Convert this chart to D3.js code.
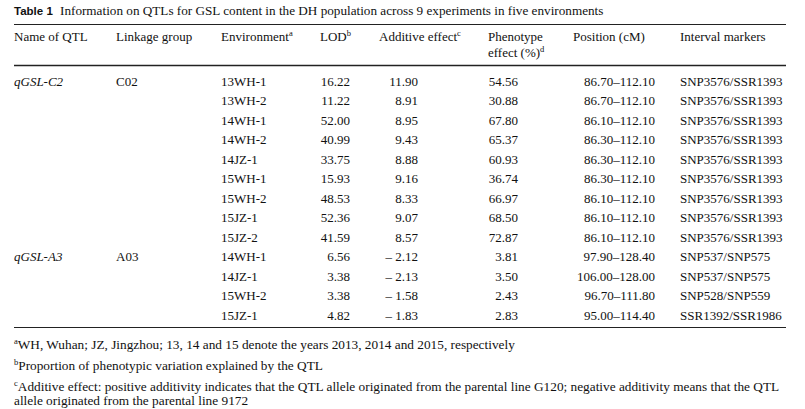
<!doctype html>
<html lang="en">
<head>
  <meta charset="utf-8">
  <title>Table 1 QTLs for GSL content</title>
  <style>
    html, body {
      margin: 0;
      padding: 0;
      background: white;
    }
    svg text {
      font-family: 'Liberation Serif', 'Times New Roman', serif;
      fill: #111;
    }
    .cap-label {
      font-family: 'Liberation Sans', Arial, sans-serif;
      font-weight: bold;
    }
  </style>
</head>
<body>
  <div id="table1"></div>

  <script src="https://d3js.org/d3.v7.min.js"></script>
  <script>
    // table content
    const qtlNames    = ["qGSL-C2", "qGSL-A3"];
    const linkage     = ["C02", "A03"];
    const qtlRows     = [9, 4];   // rows belonging to each QTL
    const environments = ["13WH-1", "13WH-2", "14WH-1", "14WH-2", "14JZ-1", "15WH-1", "15WH-2", "15JZ-1", "15JZ-2",
                          "14WH-1", "14JZ-1", "15WH-2", "15JZ-1"];
    const lod         = [16.22, 11.22, 52.00, 40.99, 33.75, 15.93, 48.53, 52.36, 41.59, 6.56, 3.38, 3.38, 4.82];
    const additive    = [11.90, 8.91, 8.95, 9.43, 8.88, 9.16, 8.33, 9.07, 8.57, -2.12, -2.13, -1.58, -1.83];
    const phenotype   = [54.56, 30.88, 67.80, 65.37, 60.93, 36.74, 66.97, 68.50, 72.87, 3.81, 3.50, 2.43, 2.83];
    const posStart    = [86.70, 86.70, 86.10, 86.30, 86.30, 86.30, 86.10, 86.10, 86.10, 97.90, 106.00, 96.70, 95.00];
    const posEnd      = [112.10, 112.10, 112.10, 112.10, 112.10, 112.10, 112.10, 112.10, 112.10, 128.40, 128.00, 111.80, 114.40];
    const markers     = ["SNP3576/SSR1393", "SNP3576/SSR1393", "SNP3576/SSR1393", "SNP3576/SSR1393", "SNP3576/SSR1393",
                         "SNP3576/SSR1393", "SNP3576/SSR1393", "SNP3576/SSR1393", "SNP3576/SSR1393",
                         "SNP537/SNP575", "SNP537/SNP575", "SNP528/SNP559", "SSR1392/SSR1986"];

    const captionLabel = "Table 1";
    const captionText  = "Information on QTLs for GSL content in the DH population across 9 experiments in five environments";
    const footnotes = [
      ["a", "WH, Wuhan; JZ, Jingzhou; 13, 14 and 15 denote the years 2013, 2014 and 2015, respectively"],
      ["b", "Proportion of phenotypic variation explained by the QTL"],
      ["c", "Additive effect: positive additivity indicates that the QTL allele originated from the parental line G120; negative additivity means that the QTL"],
      ["",  "allele originated from the parental line 9172"]
    ];

    const W = 805, H = 409;
    const left = 14, right = 786;
    const fs = 13;

    // column layout: x and anchor for headers and cells
    const cols = {
      name:   { x: 14,  anchor: "start" },
      link:   { x: 116, anchor: "start" },
      env:    { x: 221, anchor: "start" },
      lod:    { x: 350, anchor: "end", hx: 320 },
      add:    { x: 418, anchor: "end", hx: 379 },
      phen:   { x: 518, anchor: "end", hx: 488 },
      pos:    { x: 655, anchor: "end", hx: 573 },
      mark:   { x: 680, anchor: "start" }
    };

    const svg = d3.select("#table1")
      .append("svg")
      .attr("width", W)
      .attr("height", H)
      .attr("viewBox", `0 0 ${W} ${H}`);

    // caption
    const cap = svg.append("text").attr("x", left).attr("y", 15).attr("font-size", 13.2);
    cap.append("tspan").attr("class", "cap-label").attr("font-size", 11.5).text(captionLabel);
    cap.append("tspan").attr("x", 60).text(captionText);

    // rules
    const rule = (y, w) => svg.append("line")
      .attr("x1", left).attr("x2", right)
      .attr("y1", y).attr("y2", y)
      .attr("stroke", "#222").attr("stroke-width", w);
    rule(24.5, 1);
    rule(65.5, 1.3);
    rule(327.5, 1);

    // headers
    function header(x, y, txt, sup) {
      const t = svg.append("text").attr("x", x).attr("y", y).attr("font-size", fs).text(txt);
      if (sup) t.append("tspan").attr("font-size", 8.5).attr("dy", -5).text(sup);
      return t;
    }
    header(cols.name.x, 41, "Name of QTL");
    header(cols.link.x, 41, "Linkage group");
    header(cols.env.x, 41, "Environment", "a");
    header(cols.lod.hx, 41, "LOD", "b");
    header(cols.add.hx, 41, "Additive effect", "c");
    header(cols.phen.hx, 41, "Phenotype");
    header(cols.phen.hx, 56.5, "effect (%)", "d");
    header(cols.pos.hx, 41, "Position (cM)");
    header(cols.mark.x, 41, "Interval markers");

    // row scale
    const y = d3.scalePoint()
      .domain(d3.range(environments.length))
      .range([85.5, 320]);

    const f2 = d3.format(".2f");
    const fmtAdd = v => v < 0 ? "\u2013 " + f2(-v) : f2(v);

    const rows = environments.map((env, i) => ({
      env: env,
      lod: f2(lod[i]),
      add: fmtAdd(additive[i]),
      phen: f2(phenotype[i]),
      pos: f2(posStart[i]) + "\u2013" + f2(posEnd[i]),
      mark: markers[i]
    }));

    const rowG = svg.selectAll("g.row")
      .data(rows)
      .join("g")
      .attr("class", "row")
      .attr("transform", (d, i) => `translate(0,${y(i)})`);

    ["env", "lod", "add", "phen", "pos", "mark"].forEach(key => {
      rowG.append("text")
        .attr("x", cols[key].x)
        .attr("text-anchor", cols[key].anchor)
        .attr("font-size", fs)
        .text(d => d[key]);
    });

    // QTL name and linkage group on the first row of each block
    const firstRow = qtlRows.map((n, k) => d3.sum(qtlRows.slice(0, k)));
    qtlNames.forEach((name, k) => {
      svg.append("text")
        .attr("x", cols.name.x)
        .attr("y", y(firstRow[k]))
        .attr("font-size", fs)
        .attr("font-style", "italic")
        .text(name);
      svg.append("text")
        .attr("x", cols.link.x)
        .attr("y", y(firstRow[k]))
        .attr("font-size", fs)
        .text(linkage[k]);
    });

    // footnotes
    const noteY = [349, 370, 391, 405];
    footnotes.forEach(([sup, txt], i) => {
      const t = svg.append("text").attr("x", left).attr("y", noteY[i]).attr("font-size", 13.3);
      if (sup) t.append("tspan").attr("font-size", 8.5).attr("dy", -5).text(sup);
      t.append("tspan").attr("dy", sup ? 5 : 0).text(txt);
    });
  </script>
</body>
</html>
